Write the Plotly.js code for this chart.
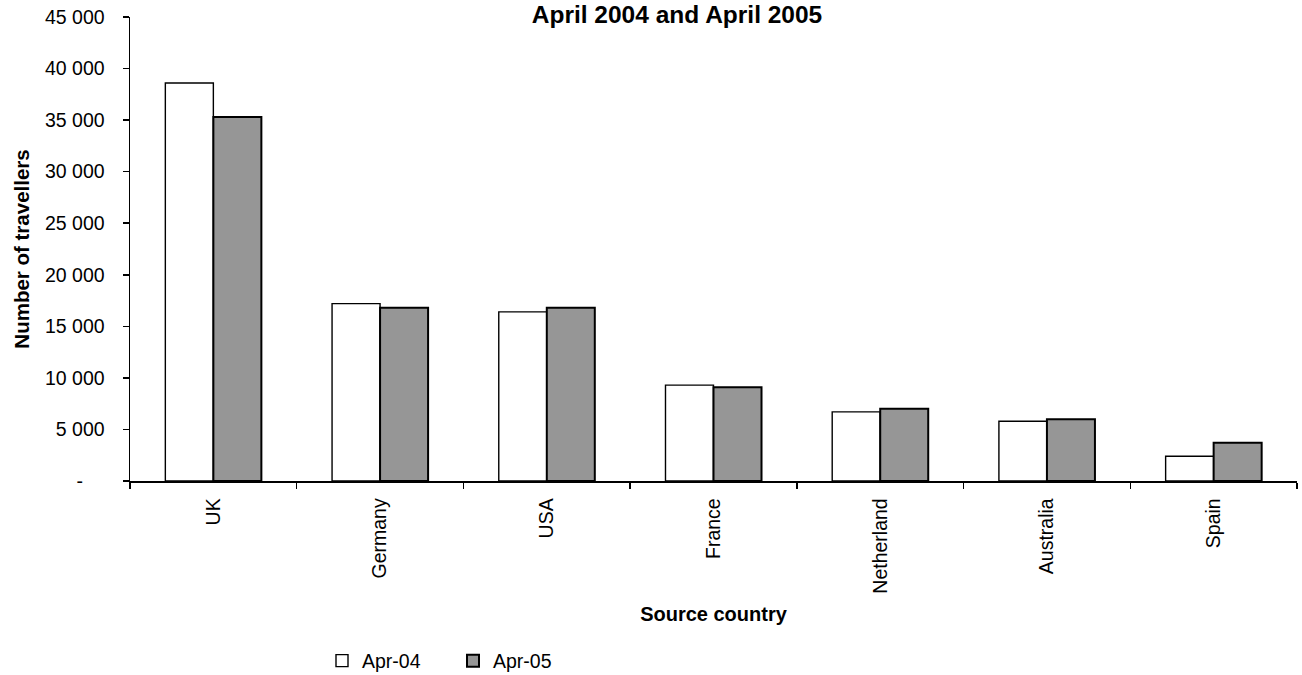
<!DOCTYPE html>
<html>
<head>
<meta charset="utf-8">
<script src="https://cdn.plot.ly/plotly-3.0.1.min.js"></script>
<style>
  html, body { margin: 0; padding: 0; background: #ffffff; }
  #chart { width: 1302px; height: 675px; }
</style>
</head>
<body>
<div id="chart"></div>
<script>
// ---- data ----
const countries = ["UK", "Germany", "USA", "France", "Netherland", "Australia", "Spain"];
const apr04 = [38600, 17200, 16400, 9300, 6700, 5800, 2400];
const apr05 = [35300, 16800, 16800, 9100, 7000, 6000, 3700];
const seriesNames = ["Apr-04", "Apr-05"];
const yTickVals = [0, 5000, 10000, 15000, 20000, 25000, 30000, 35000, 40000, 45000];
const yTickText = ["-\u00a0\u00a0\u00a0\u00a0", "5 000", "10 000", "15 000", "20 000", "25 000", "30 000", "35 000", "40 000", "45 000"];

const FONT = "Arial, 'Liberation Sans', sans-serif";

const traces = [
  {
    type: "bar", name: seriesNames[0], x: countries, y: apr04,
    marker: { color: "#ffffff", line: { color: "#000000", width: 1.4 } },
    hoverinfo: "x+y"
  },
  {
    type: "bar", name: seriesNames[1], x: countries, y: apr05,
    marker: { color: "#969696", line: { color: "#000000", width: 2 } },
    hoverinfo: "x+y"
  }
];

const layout = {
  width: 1302, height: 675,
  margin: { l: 130, r: 5, t: 17, b: 194, pad: 0, autoexpand: false },
  paper_bgcolor: "#ffffff", plot_bgcolor: "#ffffff",
  font: { family: FONT, size: 19, color: "#000000" },
  barmode: "group", bargap: 0.424, bargroupgap: 0,
  title: {
    text: "<b>April 2004 and April 2005</b>",
    font: { family: FONT, size: 24.5, color: "#000000" },
    xref: "container", yref: "container",
    x: 677 / 1302, xanchor: "center",
    y: 1 - 6 / 675, yanchor: "top", pad: { t: 0, b: 0 }
  },
  xaxis: {
    type: "category",
    showline: true, linecolor: "#000000", linewidth: 1.5,
    ticks: "outside", tickson: "boundaries", ticklen: 6, tickwidth: 1.5, tickcolor: "#000000",
    tickangle: -90, ticklabelstandoff: 8,
    tickfont: { family: FONT, size: 19.5 },
    showgrid: false, zeroline: false,
    title: { text: "<b>Source country</b>", font: { family: FONT, size: 20 }, standoff: 14 }
  },
  yaxis: {
    range: [0, 45000],
    tickvals: yTickVals, ticktext: yTickText,
    showline: true, linecolor: "#000000", linewidth: 1.5,
    ticks: "outside", ticklen: 6, tickwidth: 1.5, tickcolor: "#000000",
    ticklabelstandoff: 14,
    tickfont: { family: FONT, size: 19.5 },
    showgrid: false, zeroline: false,
    title: { text: "<b>Number of travellers</b>", font: { family: FONT, size: 20.5 }, standoff: 10 }
  },
  legend: {
    orientation: "h",
    xref: "container", yref: "container",
    x: 322 / 1302, xanchor: "left",
    y: 1 - 661 / 675, yanchor: "middle",
    font: { family: FONT, size: 19.5 },
    entrywidth: 86, entrywidthmode: "pixels",
    traceorder: "normal"
  },
  showlegend: true
};

Plotly.newPlot("chart", traces, layout, { displayModeBar: false, staticPlot: true });
</script>
</body>
</html>
